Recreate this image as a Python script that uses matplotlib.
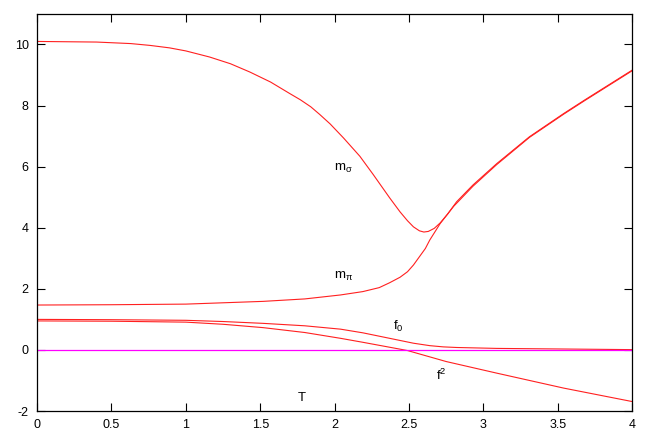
import matplotlib
matplotlib.use("Agg")
import matplotlib.pyplot as plt

# values
T_sigma = [0, 0.4, 0.63, 0.76, 0.89, 1.0, 1.16, 1.30, 1.43, 1.57, 1.70, 1.77, 1.84, 1.90, 1.97, 2.06,
           2.17, 2.26, 2.37, 2.44, 2.49, 2.53, 2.57, 2.60, 2.63, 2.67, 2.71, 2.76, 2.82, 2.93,
           3.09, 3.31, 3.54, 3.68, 4.0]
m_sigma = [10.1, 10.08, 10.03, 9.97, 9.89, 9.79, 9.59, 9.37, 9.10, 8.77, 8.39, 8.19, 7.96, 7.71, 7.40, 6.94,
           6.34, 5.74, 4.98, 4.52, 4.23, 4.03, 3.90, 3.86, 3.88, 3.98, 4.16, 4.45, 4.85, 5.40,
           6.10, 6.98, 7.74, 8.18, 9.16]

T_pi = [0, 0.5, 1.0, 1.52, 1.8, 2.04, 2.19, 2.30, 2.37, 2.44, 2.49, 2.53, 2.57, 2.61, 2.64, 2.71,
        2.80, 2.93, 3.09, 3.31, 3.54, 3.68, 4.0]
m_pi = [1.47, 1.48, 1.50, 1.59, 1.67, 1.80, 1.91, 2.04, 2.20, 2.38, 2.56, 2.78, 3.05, 3.32, 3.60, 4.14,
        4.70, 5.36, 6.07, 6.96, 7.72, 8.16, 9.14]

T_f0 = [0, 0.5, 1.0, 1.25, 1.52, 1.8, 2.04, 2.19, 2.37, 2.53, 2.64, 2.73, 2.82, 3.09, 3.54, 4.0]
f0 = [1.0, 0.99, 0.97, 0.93, 0.87, 0.79, 0.68, 0.56, 0.38, 0.22, 0.14, 0.10, 0.08, 0.05, 0.03, 0.01]

T_f2 = [0, 0.5, 1.0, 1.25, 1.52, 1.8, 2.04, 2.19, 2.49, 2.75, 3.09, 3.54, 4.0]
f2 = [0.95, 0.94, 0.91, 0.84, 0.73, 0.57, 0.38, 0.25, -0.02, -0.38, -0.76, -1.25, -1.69]

xticks = [0, 0.5, 1, 1.5, 2, 2.5, 3, 3.5, 4]
yticks = [-2, 0, 2, 4, 6, 8, 10]

plt.rcParams['font.family'] = ['Liberation Sans', 'DejaVu Sans']
plt.rcParams['mathtext.default'] = 'regular'
plt.rcParams['axes.unicode_minus'] = False

fig = plt.figure(figsize=(6.54, 4.36), dpi=100)
ax = fig.add_axes([0.0566, 0.0573, 0.91, 0.9107])

red = '#ff2020'
ax.plot(T_sigma, m_sigma, color=red, lw=0.8)
ax.plot(T_pi, m_pi, color=red, lw=0.8)
ax.plot(T_f0, f0, color=red, lw=0.8)
ax.plot(T_f2, f2, color=red, lw=0.8)
ax.axhline(0, color='#ff00ff', lw=0.9)

# curve labels
ax.text(2.06, 5.95, r'm$_\sigma$', fontsize=9.5, ha='center', va='center')
ax.text(2.06, 2.39, r'm$_\pi$', fontsize=9.5, ha='center', va='center')
ax.text(2.43, 0.78, r'f$_0$', fontsize=9.5, ha='center', va='center')
ax.text(2.72, -0.82, r'f$^2$', fontsize=9.5, ha='center', va='center')
ax.text(1.78, -1.58, 'T', fontsize=9.5, ha='center', va='center')

ax.set_xlim(0, 4)
ax.set_ylim(-2, 11)
ax.set_xticks(xticks)
ax.set_xticklabels([f'{v:g}' for v in xticks])
ax.set_yticks(yticks)
ax.tick_params(direction='in', length=6, width=0.8, top=True, right=True, labelsize=9, pad=6)
for s in ax.spines.values():
    s.set_linewidth(0.9)

fig.savefig('out.png', dpi=100)
